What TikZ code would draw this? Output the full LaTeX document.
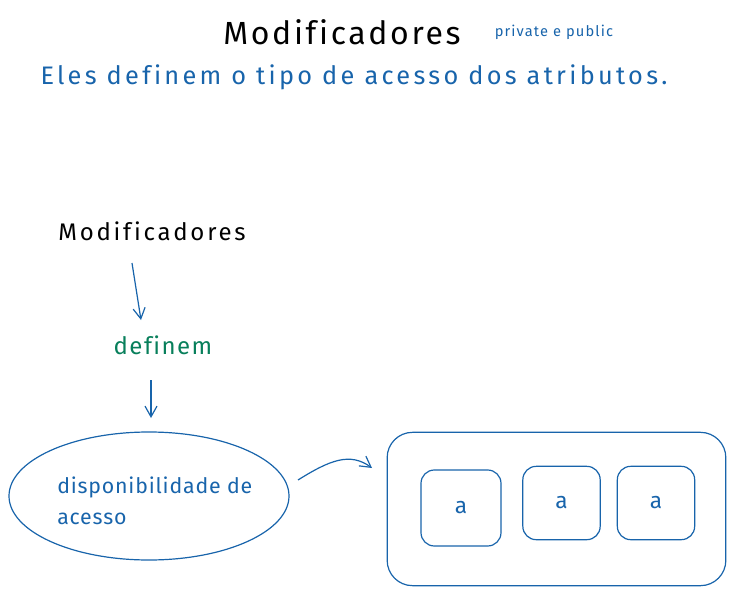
\documentclass[tikz,border=0pt]{standalone}
\usepackage{fontspec}
\setmainfont[Ligatures=CommonOff]{Fira Sans}
\usetikzlibrary{arrows.meta,shapes.geometric}
\definecolor{exblue}{HTML}{1864AB}
\definecolor{exgreen}{HTML}{087F5B}
\tikzset{
  lbl/.style n args={2}{inner sep=0pt, font=\fontsize{#1}{#1}\selectfont\addfontfeature{LetterSpace=#2}},
  conn/.style={draw=exblue, line width=0.9pt, -{Straight Barb[length=8pt,width=9pt]}},
  bigbox/.style={draw=exblue, line width=0.9pt, rounded corners=19pt},
  smallbox/.style={draw=exblue, line width=0.9pt, rounded corners=10pt, font=\fontsize{17}{17}\selectfont, text=exblue},
}
\begin{document}
\begin{tikzpicture}[x=0.75pt,y=-0.75pt]
\useasboundingbox (0,0) rectangle (736,596);
\node[lbl={24}{8.3}] (title) at (342,32) {Modificadores};
\node[lbl={11}{7.7}, text=exblue] (sub) at (554,32) {private e public};
\node[lbl={19}{13}, text=exblue] (desc) at (354,77) {Eles definem o tipo de acesso dos atributos.};
\node[lbl={18}{11.5}] (mod) at (152,231) {Modificadores};
\node[lbl={18}{6}, text=exgreen] (def) at (163,345) {definem};
\node[draw=exblue, line width=0.9pt, ellipse, minimum width=210pt, minimum height=96pt] (ell) at (149,496) {};
\node[lbl={16}{3.8}, text=exblue, align=left, anchor=north west] (dtext) at (57,477) {disponibilidade de\\[7pt]acesso};
\node[bigbox, minimum width=254pt, minimum height=115pt] (outer) at (556.5,509) {};
\node[smallbox, minimum width=60pt, minimum height=57pt] (a1) at (461,508) {a};
\node[smallbox, minimum width=58pt, minimum height=55pt] (a2) at (561.5,503) {a};
\node[smallbox, minimum width=58pt, minimum height=55pt] (a3) at (656,503) {a};
\coordinate (s1) at (132,263);
\coordinate (e1) at (141,320);
\draw[conn] (s1) -- (e1);
\coordinate (s2) at (151,380);
\coordinate (e2) at (151,418);
\draw[conn] (s2) -- (e2);
\coordinate (s3) at (298,480);
\coordinate (e3) at (372,468);
\draw[conn] (s3) .. controls (330,460) and (350,452) .. (e3);
\end{tikzpicture}
\end{document}
